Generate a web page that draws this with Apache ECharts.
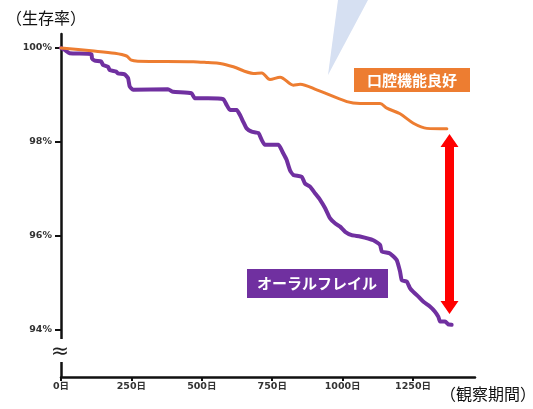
<!DOCTYPE html>
<html>
<head>
<meta charset="utf-8">
<style>
  html, body { margin: 0; padding: 0; background: #fff; }
  #chart { width: 533px; height: 409px; }
</style>
<script src="https://cdn.jsdelivr.net/npm/echarts@6/dist/echarts.min.js"></script>
</head>
<body>
<div id="chart"></div>
<script>
// 目盛り
const xTicks = [0, 250, 500, 750, 1000, 1250];
const yTicks = [94, 96, 98, 100];

// 口腔機能良好（オレンジ）
const goodDays  = [0, 108, 191, 233, 250, 273, 470, 522, 565, 612, 683, 713, 742, 778, 825, 849, 908, 1015, 1062, 1133, 1157, 1204, 1251, 1299, 1370];
const goodRates = [100, 99.94, 99.89, 99.83, 99.74, 99.72, 99.71, 99.69, 99.67, 99.60, 99.46, 99.47, 99.33, 99.38, 99.21, 99.23, 99.11, 98.86, 98.82, 98.82, 98.72, 98.60, 98.40, 98.29, 98.28];

// オーラルフレイル（紫）
const frailDays  = [0, 13, 31, 108, 110, 120, 143, 149, 167, 173, 196, 202, 226, 238, 244, 256, 380, 398, 463, 475, 522, 576, 588, 600, 624, 636, 647, 659, 677, 701, 713, 724, 772, 789, 801, 813, 825, 855, 866, 884, 902, 920, 938, 955, 973, 991, 1009, 1032, 1062, 1109, 1133, 1139, 1168, 1192, 1204, 1210, 1228, 1239, 1251, 1269, 1287, 1310, 1328, 1340, 1346, 1364, 1375, 1387];
const frailRates = [100, 99.96, 99.89, 99.87, 99.78, 99.73, 99.71, 99.64, 99.60, 99.53, 99.50, 99.46, 99.44, 99.36, 99.18, 99.11, 99.12, 99.07, 99.04, 98.93, 98.93, 98.91, 98.79, 98.68, 98.68, 98.57, 98.43, 98.29, 98.22, 98.19, 98.04, 97.94, 97.94, 97.76, 97.62, 97.40, 97.30, 97.26, 97.12, 97.05, 96.91, 96.77, 96.59, 96.38, 96.27, 96.20, 96.09, 96.02, 95.99, 95.91, 95.81, 95.67, 95.63, 95.49, 95.24, 95.06, 95.03, 94.89, 94.81, 94.71, 94.60, 94.50, 94.39, 94.28, 94.18, 94.18, 94.12, 94.11];

const pairs = (xs, ys) => xs.map((x, i) => [x, ys[i]]);

const labelFont = 'DejaVu Sans, Noto Sans CJK JP, sans-serif';
const jpFont = 'Noto Sans CJK JP, sans-serif';

const chart = echarts.init(document.getElementById('chart'));

chart.setOption({
    animation: false,
    grid: { left: 61, right: 58, top: 34, bottom: 32 },
    xAxis: {
        type: 'value',
        min: 0,
        max: 1470,
        axisLine: { onZero: false, lineStyle: { color: '#111', width: 2.5 } },
        axisTick: { customValues: xTicks, length: 4, lineStyle: { color: '#111', width: 2 } },
        axisLabel: {
            customValues: xTicks,
            formatter: v => v + '日',
            fontSize: 9.5,
            fontWeight: 'bold',
            color: '#333',
            margin: 5,
            fontFamily: labelFont
        },
        splitLine: { show: false }
    },
    yAxis: {
        type: 'value',
        min: 93,
        max: 100.298,
        axisLine: { show: true, onZero: false, lineStyle: { color: '#111', width: 2.5 } },
        axisTick: { show: true, customValues: yTicks, length: 6, lineStyle: { color: '#111', width: 2 } },
        axisLabel: {
            customValues: yTicks,
            formatter: v => v + '%',
            fontSize: 9.5,
            fontWeight: 'bold',
            color: '#333',
            margin: 9,
            fontFamily: labelFont
        },
        splitLine: { show: false }
    },
    series: [
        {
            name: '口腔機能良好',
            type: 'line',
            data: pairs(goodDays, goodRates),
            showSymbol: false,
            smooth: 0.3,
            lineStyle: { color: '#ed7d31', width: 3, cap: 'round', join: 'round' },
            z: 3
        },
        {
            name: 'オーラルフレイル',
            type: 'line',
            data: pairs(frailDays, frailRates),
            showSymbol: false,
            smooth: 0.15,
            lineStyle: { color: '#7030a0', width: 4, cap: 'round', join: 'round' },
            z: 2
        }
    ],
    graphic: [
        // 吹き出しの先
        { type: 'polygon', z: 1, shape: { points: [[338, 0], [368, 0], [328, 75]] }, style: { fill: '#d6e0f2' } },
        // 軸の省略記号
        { type: 'rect', z: 100, shape: { x: 54, y: 339, width: 14, height: 23 }, style: { fill: '#fff' } },
        { type: 'text', z: 101, x: 60, y: 352, style: { text: '≈', fill: '#222', align: 'center', verticalAlign: 'middle', font: '22px DejaVu Sans' } },
        // 軸名
        { type: 'text', x: 6, y: 10, style: { text: '（生存率）', fill: '#111', font: '16px ' + jpFont } },
        { type: 'text', x: 440, y: 386, style: { text: '（観察期間）', fill: '#111', font: '16px ' + jpFont } },
        // 系列ラベル
        {
            type: 'group', x: 354, y: 68,
            children: [
                { type: 'rect', shape: { width: 116, height: 24 }, style: { fill: '#ed7d31' } },
                { type: 'text', x: 58, y: 12, style: { text: '口腔機能良好', fill: '#fff', align: 'center', verticalAlign: 'middle', font: 'bold 15px ' + jpFont } }
            ]
        },
        {
            type: 'group', x: 247, y: 269,
            children: [
                { type: 'rect', shape: { width: 141, height: 29 }, style: { fill: '#7030a0' } },
                { type: 'text', x: 70, y: 14.5, style: { text: 'オーラルフレイル', fill: '#fff', align: 'center', verticalAlign: 'middle', font: 'bold 15px ' + jpFont } }
            ]
        },
        // 差を示す両矢印
        {
            type: 'polygon', z: 50,
            shape: { points: [[449.5, 134], [458.5, 147], [454, 147], [454, 301], [458.5, 301], [449.5, 314], [440.5, 301], [445, 301], [445, 147], [440.5, 147]] },
            style: { fill: '#ff0000' }
        }
    ]
});
</script>
</body>
</html>
